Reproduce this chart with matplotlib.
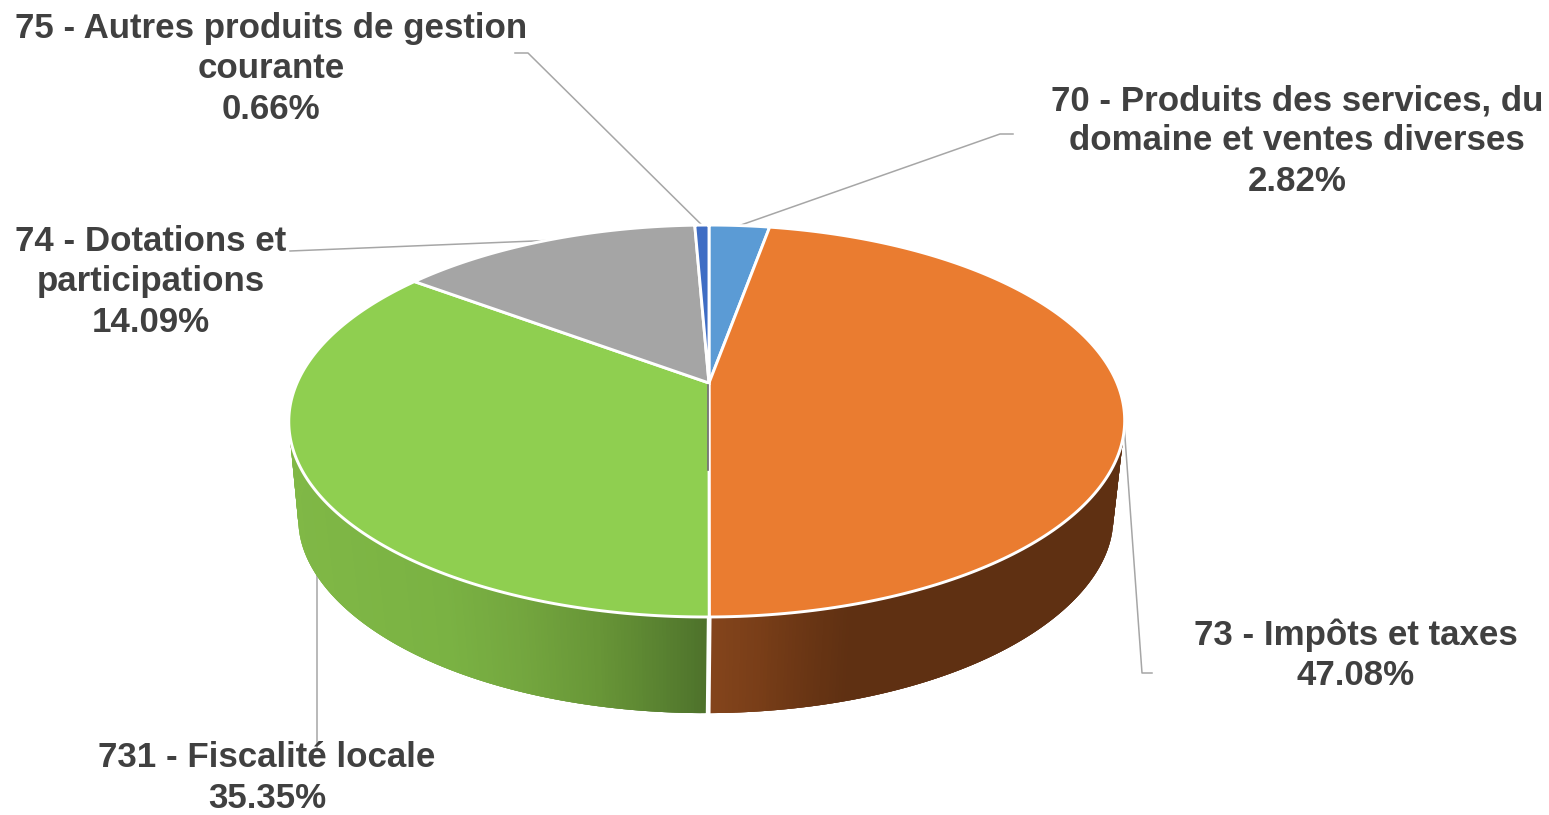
import numpy as np
import matplotlib
matplotlib.use('Agg')
import matplotlib.pyplot as plt
from matplotlib.patches import Polygon
from matplotlib.collections import PolyCollection
from matplotlib.colors import to_rgb

labels = ['70 - Produits des services, du\ndomaine et ventes diverses',
          '73 - Impôts et taxes',
          '731 - Fiscalité locale',
          '74 - Dotations et\nparticipations',
          '75 - Autres produits de gestion\ncourante']
values = [2.82, 47.08, 35.35, 14.09, 0.66]
colors = ['#5b9bd5', '#ea7c30', '#8fcf50', '#a5a5a5', '#3f6dc4']

# label centre and leader elbows, in pixels
label_pos = [(1297, 141), (1356, 655), (267, 778), (151, 282), (271, 69)]
leaders = [[(1000, 134), (1013, 134)],
           [(1142, 673), (1152, 673)],
           [(317, 560), (317, 748)],
           [(290, 251)],
           [(528, 53), (515, 53)]]

# pie geometry: perspective of a circle seen from the front
cx, cy = 709, 383
a, b, k = 410, 188.6, 0.194
depth_cy = 523
ell_cx, ell_cy = 708, 421


def rim(theta):
    x = np.sin(theta)
    y = np.cos(theta)
    d = 1 + k * y
    return cx + a * x / d - 1.5 * (1 - y) - 0.5 * x * x, cy - b * y / d


def low_rim(theta):
    x, y = rim(theta)
    s = np.sin(theta)
    # lower edge is a bit squarer than an ellipse at both ends
    return 707 + 0.96 * (x - ell_cx) + 7 * s * np.abs(s) ** 6, depth_cy + 0.97 * (y - ell_cy)


def side_color(name, x):
    if name == 'green':
        xs = [290, 450, 520, 600, 660, 708]
        stops = ['#80b846', '#7ab243', '#74a73f', '#689637', '#5a8331', '#4e722b']
    else:
        xs = [712, 760, 800, 850, 1125]
        stops = ['#84451c', '#793e18', '#6c3715', '#5f3012', '#5f3012']
    rgb = np.array([to_rgb(c) for c in stops])
    return [np.interp(x, xs, rgb[:, i]) for i in range(3)]


fig = plt.figure(figsize=(15.49, 8.15), dpi=100)
ax = fig.add_axes([0, 0, 1, 1])
ax.set_xlim(0, 1549)
ax.set_ylim(815, 0)
ax.axis('off')

edges = np.cumsum([0] + values) / 100 * 2 * np.pi
mids = (edges[:-1] + edges[1:]) / 2

# leader lines, they start on the rim at the middle of each slice
for i, pts in enumerate(leaders):
    start = rim(mids[i])
    xs = [start[0]] + [p[0] for p in pts]
    ys = [start[1]] + [p[1] for p in pts]
    ax.plot(xs, ys, color='#a6a6a6', lw=1.1, zorder=1)

# side wall, orange and green slices only are seen from the front
# strips overlap the next one so no seams show
for i, name in [(1, 'brown'), (2, 'green')]:
    t0 = max(edges[i], np.radians(60))
    t1 = min(edges[i + 1], np.radians(300))
    th = np.linspace(t0, t1, 300)
    polys = []
    cols = []
    for j in range(len(th) - 1):
        t = th[j]
        t2 = th[min(j + 3, len(th) - 1)]
        x1, y1 = rim(t)
        x2, y2 = rim(t2)
        x3, y3 = low_rim(t2)
        x4, y4 = low_rim(t)
        polys.append([(x1, y1), (x2, y2), (x3, y3), (x4, y4)])
        cols.append(side_color(name, (x1 + x4) / 2))
    ax.add_collection(PolyCollection(polys, facecolors=cols, edgecolors='none',
                                     zorder=2))

# white gap between the two visible walls
x1, y1 = rim(edges[2])
x2, y2 = low_rim(edges[2])
ax.plot([x1, x2], [y1, y2 + 2], color='white', lw=3.4, zorder=3)

# top face
for i in range(len(values)):
    th = np.linspace(edges[i], edges[i + 1], 200)
    x, y = rim(th)
    pts = np.column_stack([np.r_[cx, x], np.r_[cy, y]])
    ax.add_patch(Polygon(pts, closed=True, facecolor=colors[i], edgecolor='white',
                         lw=2.1, joinstyle='miter', zorder=4))

# thin dark line seen below the centre
ax.plot([cx - 1, cx - 1], [cy + 2, 470], color='#6a6a6a', lw=1.2, zorder=5)

for i in range(len(values)):
    txt = f'{labels[i]}\n{values[i]:.2f}%'
    ax.text(label_pos[i][0], label_pos[i][1], txt, ha='center', va='center',
            family='Liberation Sans', weight='bold', fontsize=25.15, color='#404040',
            linespacing=1.27, zorder=6)

fig.savefig('out.png', dpi=100)
